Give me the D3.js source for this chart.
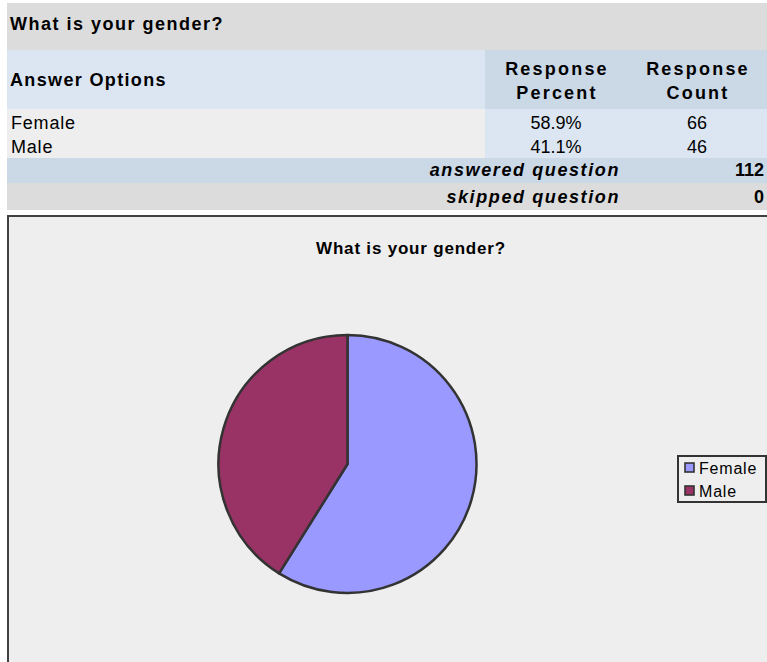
<!DOCTYPE html>
<html>
<head>
<meta charset="utf-8">
<script src="https://cdn.jsdelivr.net/npm/d3@7"></script>
<style>
  html, body { margin: 0; padding: 0; background: #ffffff; }
  svg { display: block; }
  text { font-family: "Liberation Sans", Arial, Helvetica, sans-serif; fill: #000; }
</style>
</head>
<body>
<svg id="chart" width="767" height="662"></svg>
<script>
// Survey question and answers
const questionTitle = "What is your gender?";
const answerOptions = ["Female", "Male"];
const responsePercent = [58.9, 41.1];
const responseCount = [66, 46];
const answeredQuestion = 112;
const skippedQuestion = 0;
const sliceColors = ["#9999ff", "#993366"];

const W = 767, H = 662;
const svg = d3.select("#chart");

// ---------- summary table ----------
const tableLeft = 7, tableRight = W, splitX = 485;
const pctCenter = 556, cntCenter = 697;

const table = svg.append("g");

// title row
table.append("rect").attr("x", tableLeft).attr("y", 3).attr("width", tableRight - tableLeft).attr("height", 47).attr("fill", "#dcdcdc");
table.append("text").attr("x", 10).attr("y", 30)
  .attr("font-size", 18).attr("font-weight", "bold").attr("letter-spacing", 1.5)
  .text(questionTitle);

// header row
table.append("rect").attr("x", tableLeft).attr("y", 50).attr("width", splitX - tableLeft).attr("height", 59).attr("fill", "#dce6f2");
table.append("rect").attr("x", splitX).attr("y", 50).attr("width", tableRight - splitX).attr("height", 59).attr("fill", "#cbd8e6");
table.append("text").attr("x", 10).attr("y", 86)
  .attr("font-size", 18).attr("font-weight", "bold").attr("letter-spacing", 1.35)
  .text("Answer Options");
[["Response", "Percent", pctCenter], ["Response", "Count", cntCenter]].forEach(([l1, l2, cx]) => {
  const t = table.append("text").attr("text-anchor", "middle")
    .attr("font-size", 18).attr("font-weight", "bold").attr("letter-spacing", 2.2);
  t.append("tspan").attr("x", cx + 1).attr("y", 75).text(l1);
  t.append("tspan").attr("x", cx + 1).attr("y", 99).text(l2);
});

// answer rows
const rowY = d3.scaleBand().domain(answerOptions).range([109, 158]);
table.append("rect").attr("x", tableLeft).attr("y", 109).attr("width", splitX - tableLeft).attr("height", 49).attr("fill", "#eeeeee");
table.append("rect").attr("x", splitX).attr("y", 109).attr("width", tableRight - splitX).attr("height", 49).attr("fill", "#dce6f2");
answerOptions.forEach((name, i) => {
  const by = rowY(name) + rowY.bandwidth() - 5;
  table.append("text").attr("x", 11).attr("y", by)
    .attr("font-size", 18).attr("letter-spacing", 0.8).text(name);
  table.append("text").attr("x", pctCenter).attr("y", by).attr("text-anchor", "middle")
    .attr("font-size", 18).text(responsePercent[i].toFixed(1) + "%");
  table.append("text").attr("x", cntCenter).attr("y", by).attr("text-anchor", "middle")
    .attr("font-size", 18).text(responseCount[i]);
});

// totals rows
const totals = [["answered question", answeredQuestion, "#cbd8e6", 158, 25, 176],
                ["skipped question", skippedQuestion, "#dcdcdc", 183, 27, 203]];
totals.forEach(([label, value, fill, y, h, by]) => {
  table.append("rect").attr("x", tableLeft).attr("y", y).attr("width", tableRight - tableLeft).attr("height", h).attr("fill", fill);
  table.append("text").attr("x", 620).attr("y", by).attr("text-anchor", "end")
    .attr("font-size", 18).attr("font-weight", "bold").attr("font-style", "italic").attr("letter-spacing", 1.6)
    .text(label);
  table.append("text").attr("x", 764).attr("y", by).attr("text-anchor", "end")
    .attr("font-size", 18).attr("font-weight", "bold")
    .text(value);
});

// ---------- chart area ----------
const chartLeft = 8, chartTop = 216, chartWidth = 810;
svg.append("rect").attr("x", chartLeft).attr("y", chartTop)
  .attr("width", chartWidth).attr("height", H - chartTop + 20)
  .attr("fill", "#eeeeee").attr("stroke", "#404040").attr("stroke-width", 2);

svg.append("text").attr("x", 411).attr("y", 254).attr("text-anchor", "middle")
  .attr("font-size", 17).attr("font-weight", "bold").attr("letter-spacing", 0.8)
  .text(questionTitle);

// pie
const cx = 347.5, cy = 464, radius = 129;
const pie = d3.pie().sort(null).value(d => d.value);
const arc = d3.arc().innerRadius(0).outerRadius(radius);
const slices = pie(answerOptions.map((name, i) => ({ name, value: responsePercent[i] })));

svg.append("g").attr("transform", `translate(${cx},${cy})`)
  .selectAll("path").data(slices).join("path")
  .attr("d", arc)
  .attr("fill", (d, i) => sliceColors[i])
  .attr("stroke", "#333333").attr("stroke-width", 2.5).attr("stroke-linejoin", "round");

// legend
const legend = svg.append("g");
legend.append("rect").attr("x", 678).attr("y", 456).attr("width", 88).attr("height", 46)
  .attr("fill", "#eeeeee").attr("stroke", "#333333").attr("stroke-width", 2);
const legY = d3.scalePoint().domain(answerOptions).range([468, 491]);
answerOptions.forEach((name, i) => {
  legend.append("rect").attr("x", 685).attr("y", legY(name) - 5).attr("width", 9).attr("height", 9)
    .attr("fill", sliceColors[i]).attr("stroke", "#333333").attr("stroke-width", 1.6);
  legend.append("text").attr("x", 699).attr("y", legY(name) + 5.5)
    .attr("font-size", 16).attr("letter-spacing", 0.8).text(name);
});
</script>
</body>
</html>
